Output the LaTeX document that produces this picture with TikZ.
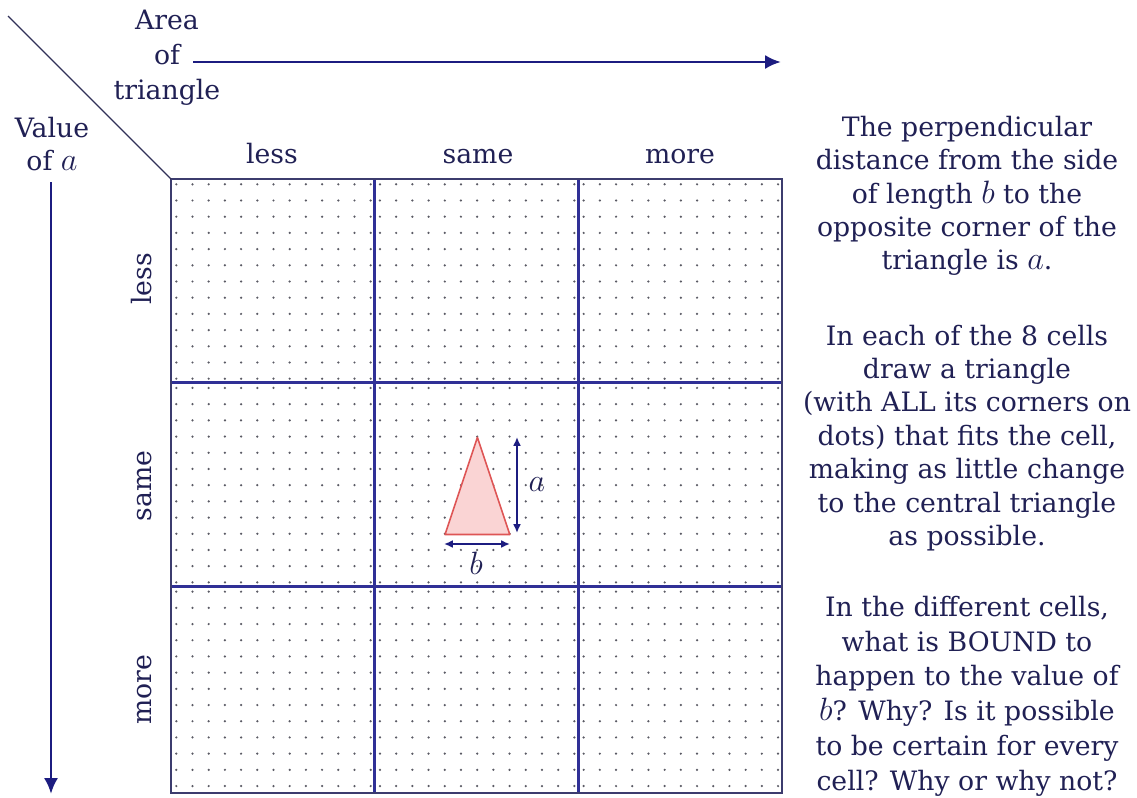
\RequirePackage{fix-cm}
\documentclass[tikz,border=0pt]{standalone}
\usepackage{fontspec}
\setmainfont{DejaVu Serif}
\usetikzlibrary{arrows.meta}
\definecolor{inkblue}{RGB}{32,32,84}
\definecolor{arrowblue}{RGB}{28,28,128}
\definecolor{rimblue}{RGB}{60,60,110}
\definecolor{splitblue}{RGB}{48,48,150}
\definecolor{dotgrey}{RGB}{90,90,100}
\definecolor{trifill}{RGB}{250,212,212}
\definecolor{triline}{RGB}{222,85,85}
\newcommand{\mvar}[1]{{\fontsize{18.4}{19}\selectfont$#1$}}
\begin{document}
\begin{tikzpicture}[x=0.02cm, y=-0.02cm,
	lab/.style = {text=inkblue, font=\fontsize{15.2}{19}\selectfont, inner sep=0pt, align=center},
	head/.style = {lab, text height=1.5ex, text depth=0.25ex},
	bigarrow/.style = {draw=arrowblue, line width=1.7pt, -{Latex[length=9pt,width=8pt]}},
	smallarrow/.style = {draw=arrowblue, line width=1.1pt, {Latex[length=5pt,width=4.5pt]}-{Latex[length=5pt,width=4.5pt]}}]
	\useasboundingbox (0,0) rectangle (1137,798);
	% dots, 13 x 13 in each cell
	\foreach \cx in {0,1,2}
		\foreach \cy in {0,1,2}
			\foreach \i in {0,...,12}
				\foreach \j in {0,...,12}
					\fill [dotgrey] (176.3+203.67*\cx+16.2*\i, 184.3+203.67*\cy+16.2*\j) circle (0.7pt);
	% the table
	\coordinate (nw) at (171,179);
	\coordinate (se) at (782,793);
	\draw [splitblue, line width=1.4pt] (374.67,179) -- (374.67,793);
	\draw [splitblue, line width=1.4pt] (578.33,179) -- (578.33,793);
	\draw [splitblue, line width=1.4pt] (171,382.67) -- (782,382.67);
	\draw [splitblue, line width=1.4pt] (171,586.33) -- (782,586.33);
	\draw [rimblue, line width=1.1pt] (nw) rectangle (se);
	\coordinate (corner) at (8,16);
	\draw [rimblue!80!black, line width=0.8pt] (corner) -- (nw);
	% axis titles and arrows
	\node [lab, font=\fontsize{15.2}{19.8}\selectfont] (area) at (167,58) {Area\\of\\triangle};
	\coordinate (areaend) at (781,62);
	\draw [bigarrow] (193,62) -- (areaend);
	\node [lab] (value) at (52,144) {Value\\of \mvar{a}};
	\coordinate (valueend) at (51,794);
	\draw [bigarrow] (51,182) -- (valueend);
	% column and row heads
	\node [head] (colless) at (272,158) {less};
	\node [head] (colsame) at (478,158) {same};
	\node [head] (colmore) at (680,158) {more};
	\node [head, rotate=90] (rowless) at (146,279) {less};
	\node [head, rotate=90] (rowsame) at (146,486) {same};
	\node [head, rotate=90] (rowmore) at (146,690) {more};
	% central triangle
	\coordinate (tl) at (445,534.5);
	\coordinate (tr) at (509.8,534.5);
	\coordinate (tt) at (477.4,437.3);
	\draw [triline, fill=trifill, line width=0.9pt, line join=round] (tl) -- (tr) -- (tt) -- cycle;
	\coordinate (atop) at (517,437);
	\coordinate (abot) at (517,533);
	\draw [smallarrow] (atop) -- (abot);
	\node [lab] (alab) at (537,485) {\mvar{a}};
	\coordinate (bleft) at (444,544);
	\coordinate (bright) at (510,544);
	\draw [smallarrow] (bleft) -- (bright);
	\node [lab] (blab) at (476,563) {\mvar{b}};
	% the questions
	\node [lab] (task1) at (967,196) {The perpendicular\\distance from the side\\of length \mvar{b} to the\\opposite corner of the\\triangle is \mvar{a}.};
	\node [lab] (task2) at (967,438) {In each of the 8 cells\\draw a triangle\\(with ALL its corners on\\dots) that fits the cell,\\making as little change\\to the central triangle\\as possible.};
	\node [lab, font=\fontsize{15.2}{19.8}\selectfont] (task3) at (967,696) {In the different cells,\\what is BOUND to\\happen to the value of\\\mvar{b}? Why? Is it possible\\to be certain for every\\cell? Why or why not?};
\end{tikzpicture}
\end{document}
